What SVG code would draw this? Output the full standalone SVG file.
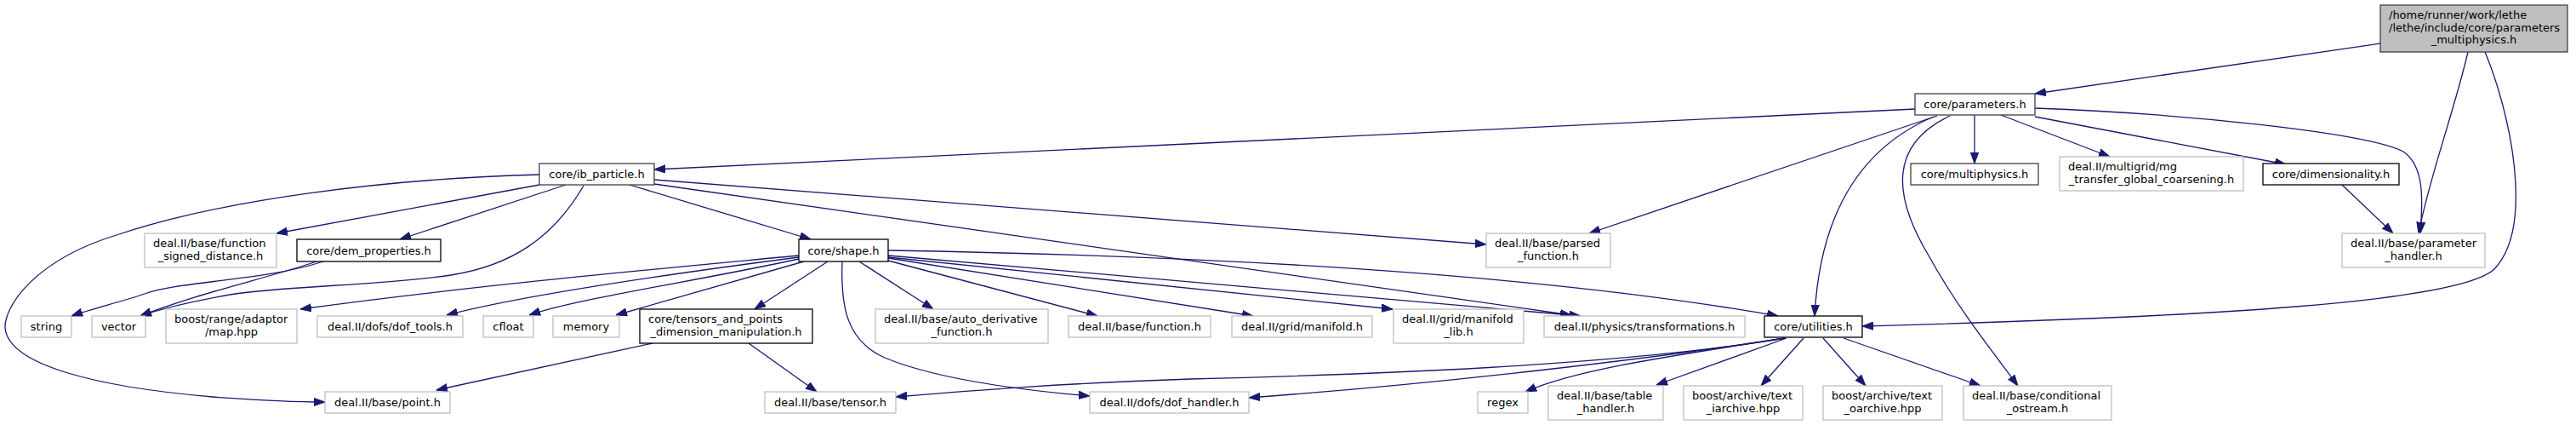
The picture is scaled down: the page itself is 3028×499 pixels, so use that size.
<svg xmlns="http://www.w3.org/2000/svg" width="3028" height="499" viewBox="0 0 3028 499">
<defs>
<style>
.e{fill:none;stroke:#191970;stroke-width:1.3;marker-end:url(#ah)}
.n rect{fill:#fff;stroke:#000;stroke-width:1.3}
.d rect{stroke:#404040}
.g rect{fill:#fff;stroke:#bfbfbf;stroke-width:1.3}
.r rect{fill:#bfbfbf;stroke:#404040;stroke-width:1.3}
text{font-family:"DejaVu Sans",sans-serif;font-size:13px;fill:#000}
.m{text-anchor:middle}
.s{text-anchor:start}
</style>
<marker id="ah" viewBox="0 0 13 10" refX="13" refY="5" markerWidth="13" markerHeight="10" markerUnits="userSpaceOnUse" orient="auto">
<path d="M0,0.4 L13,5 L0,9.6 z" fill="#191970" stroke="#191970" stroke-width="1"/>
</marker>
</defs>
<rect width="3028" height="499" fill="#fff"/>
<g id="connectors">
<path class="e" d="M2798,51 L2392,110"/>
<path class="e" d="M2901,61 C2885,130 2855,210 2843,274"/>
<path class="e" d="M2921,61 C2950,130 2980,265 2932,316 C2890,355 2600,372 2189,383"/>
<path class="e" d="M2251,128 L769,199"/>
<path class="e" d="M2277,136 L1868,274"/>
<path class="e" d="M2273,137 C2195,170 2140,240 2133,371"/>
<path class="e" d="M2321,135 L2321,192"/>
<path class="e" d="M2352,135 L2480,184"/>
<path class="e" d="M2392,137 L2687,193"/>
<path class="e" d="M2392,127 C2560,133 2780,155 2825,178 C2850,195 2848,235 2845,274"/>
<path class="e" d="M2292,136 C2220,170 2225,230 2267,300 C2300,360 2340,410 2372,453"/>
<path class="e" d="M2753,217 L2813,274"/>
<path class="e" d="M634,217 L325,274"/>
<path class="e" d="M665,217 L470,281"/>
<path class="e" d="M686,218 C650,280 600,312 530,323 C450,335 330,336 270,346 C220,355 190,362 165,371"/>
<path class="e" d="M634,205 C450,210 260,235 140,275 C40,305 5,360 6,385 C10,430 120,455 250,466 C320,471 360,472 382,472"/>
<path class="e" d="M740,217 L953,281"/>
<path class="e" d="M769,211 L1747,287"/>
<path class="e" d="M769,216 L1847,370"/>
<path class="e" d="M380,307 C310,330 210,330 170,345 C140,355 110,362 84,371"/>
<path class="e" d="M372,307 C320,325 230,345 165,371"/>
<path class="e" d="M939,300 C750,318 560,335 353,363"/>
<path class="e" d="M939,302 C800,320 620,345 525,370"/>
<path class="e" d="M939,304 C820,330 680,350 622,370"/>
<path class="e" d="M945,307 L724,370"/>
<path class="e" d="M973,307 L887,363"/>
<path class="e" d="M1010,307 L1097,363"/>
<path class="e" d="M1044,306 L1290,371"/>
<path class="e" d="M1044,303 L1473,371"/>
<path class="e" d="M1044,302 L1637,363"/>
<path class="e" d="M1044,300 L1858,371"/>
<path class="e" d="M1044,294 C1400,300 1800,320 2090,371"/>
<path class="e" d="M990,307 C988,360 995,400 1040,420 C1100,445 1200,458 1281,465"/>
<path class="e" d="M767,403 L513,458"/>
<path class="e" d="M880,403 L960,460"/>
<path class="e" d="M2098,397 C1900,430 1600,440 1400,445 C1250,450 1150,458 1053,466"/>
<path class="e" d="M2098,397 C1950,420 1700,450 1468,467"/>
<path class="e" d="M2098,397 C1950,420 1850,435 1793,460"/>
<path class="e" d="M2100,397 L1947,452"/>
<path class="e" d="M2120,397 L2070,453"/>
<path class="e" d="M2143,397 L2193,453"/>
<path class="e" d="M2167,397 L2328,453"/>
</g>
<g id="n_root" class="r"><rect x="2798" y="6" width="220" height="55"/><text class="s" x="2808" y="22">/home/runner/work/lethe</text><text class="s" x="2808" y="36.5">/lethe/include/core/parameters</text><text class="m" x="2908" y="51">_multiphysics.h</text></g>
<g id="n_parameters" class="n d"><rect x="2251" y="110" width="141" height="25"/><text class="m" x="2321.5" y="127">core/parameters.h</text></g>
<g id="n_ib_particle" class="n d"><rect x="634" y="192" width="135" height="25"/><text class="m" x="701.5" y="209">core/ib_particle.h</text></g>
<g id="n_multiphysics" class="n d"><rect x="2246" y="192" width="150" height="25"/><text class="m" x="2321" y="209">core/multiphysics.h</text></g>
<g id="n_mg" class="g"><rect x="2421" y="184" width="216" height="40"/><text class="s" x="2431" y="199.5">deal.II/multigrid/mg</text><text class="m" x="2529" y="214.5">_transfer_global_coarsening.h</text></g>
<g id="n_dimensionality" class="n"><rect x="2660" y="192" width="160" height="25"/><text class="m" x="2740" y="209">core/dimensionality.h</text></g>
<g id="n_fsd" class="g"><rect x="170" y="274" width="155" height="40"/><text class="s" x="180" y="289.5">deal.II/base/function</text><text class="m" x="247.5" y="304.5">_signed_distance.h</text></g>
<g id="n_dem" class="n"><rect x="349" y="281" width="169" height="26"/><text class="m" x="433.5" y="298.5">core/dem_properties.h</text></g>
<g id="n_shape" class="n"><rect x="939" y="281" width="105" height="26"/><text class="m" x="991.5" y="298.5">core/shape.h</text></g>
<g id="n_parsed" class="g"><rect x="1747" y="274" width="146" height="40"/><text class="s" x="1757" y="289.5">deal.II/base/parsed</text><text class="m" x="1820" y="304.5">_function.h</text></g>
<g id="n_param_handler" class="g"><rect x="2753" y="274" width="168" height="40"/><text class="s" x="2763" y="289.5">deal.II/base/parameter</text><text class="m" x="2837" y="304.5">_handler.h</text></g>
<g id="n_string" class="g"><rect x="25" y="371" width="59" height="25"/><text class="m" x="54.5" y="388">string</text></g>
<g id="n_vector" class="g"><rect x="108" y="371" width="63" height="25"/><text class="m" x="139.5" y="388">vector</text></g>
<g id="n_map" class="g"><rect x="195" y="363" width="154" height="40"/><text class="s" x="205" y="378.5">boost/range/adaptor</text><text class="m" x="272" y="393.5">/map.hpp</text></g>
<g id="n_dof_tools" class="g"><rect x="373" y="371" width="171" height="25"/><text class="m" x="458.5" y="388">deal.II/dofs/dof_tools.h</text></g>
<g id="n_cfloat" class="g"><rect x="568" y="371" width="59" height="25"/><text class="m" x="597.5" y="388">cfloat</text></g>
<g id="n_memory" class="g"><rect x="650" y="371" width="78" height="25"/><text class="m" x="689" y="388">memory</text></g>
<g id="n_tensors_points" class="n"><rect x="752" y="363" width="203" height="40"/><text class="s" x="762" y="378.5">core/tensors_and_points</text><text class="m" x="853.5" y="393.5">_dimension_manipulation.h</text></g>
<g id="n_auto_deriv" class="g"><rect x="1029" y="363" width="203" height="40"/><text class="s" x="1039" y="378.5">deal.II/base/auto_derivative</text><text class="m" x="1130.5" y="393.5">_function.h</text></g>
<g id="n_function" class="g"><rect x="1256" y="371" width="167" height="25"/><text class="m" x="1339.5" y="388">deal.II/base/function.h</text></g>
<g id="n_manifold" class="g"><rect x="1448" y="371" width="165" height="25"/><text class="m" x="1530.5" y="388">deal.II/grid/manifold.h</text></g>
<g id="n_manifold_lib" class="g"><rect x="1638" y="363" width="153" height="40"/><text class="s" x="1648" y="378.5">deal.II/grid/manifold</text><text class="m" x="1714.5" y="393.5">_lib.h</text></g>
<g id="n_transformations" class="g"><rect x="1815" y="371" width="236" height="25"/><text class="m" x="1933" y="388">deal.II/physics/transformations.h</text></g>
<g id="n_utilities" class="n"><rect x="2074" y="371" width="115" height="25"/><text class="m" x="2131.5" y="388">core/utilities.h</text></g>
<g id="n_point" class="g"><rect x="382" y="460" width="147" height="25"/><text class="m" x="455.5" y="477">deal.II/base/point.h</text></g>
<g id="n_tensor" class="g"><rect x="899" y="460" width="154" height="25"/><text class="m" x="976" y="477">deal.II/base/tensor.h</text></g>
<g id="n_dof_handler" class="g"><rect x="1281" y="460" width="187" height="25"/><text class="m" x="1374.5" y="477">deal.II/dofs/dof_handler.h</text></g>
<g id="n_regex" class="g"><rect x="1737" y="460" width="59" height="25"/><text class="m" x="1766.5" y="477">regex</text></g>
<g id="n_table_handler" class="g"><rect x="1820" y="453" width="135" height="40"/><text class="s" x="1830" y="468.5">deal.II/base/table</text><text class="m" x="1887.5" y="483.5">_handler.h</text></g>
<g id="n_iarchive" class="g"><rect x="1979" y="453" width="140" height="40"/><text class="s" x="1989" y="468.5">boost/archive/text</text><text class="m" x="2049" y="483.5">_iarchive.hpp</text></g>
<g id="n_oarchive" class="g"><rect x="2143" y="453" width="140" height="40"/><text class="s" x="2153" y="468.5">boost/archive/text</text><text class="m" x="2213" y="483.5">_oarchive.hpp</text></g>
<g id="n_cond_ostream" class="g"><rect x="2308" y="453" width="174" height="40"/><text class="s" x="2318" y="468.5">deal.II/base/conditional</text><text class="m" x="2395" y="483.5">_ostream.h</text></g>
</svg>
